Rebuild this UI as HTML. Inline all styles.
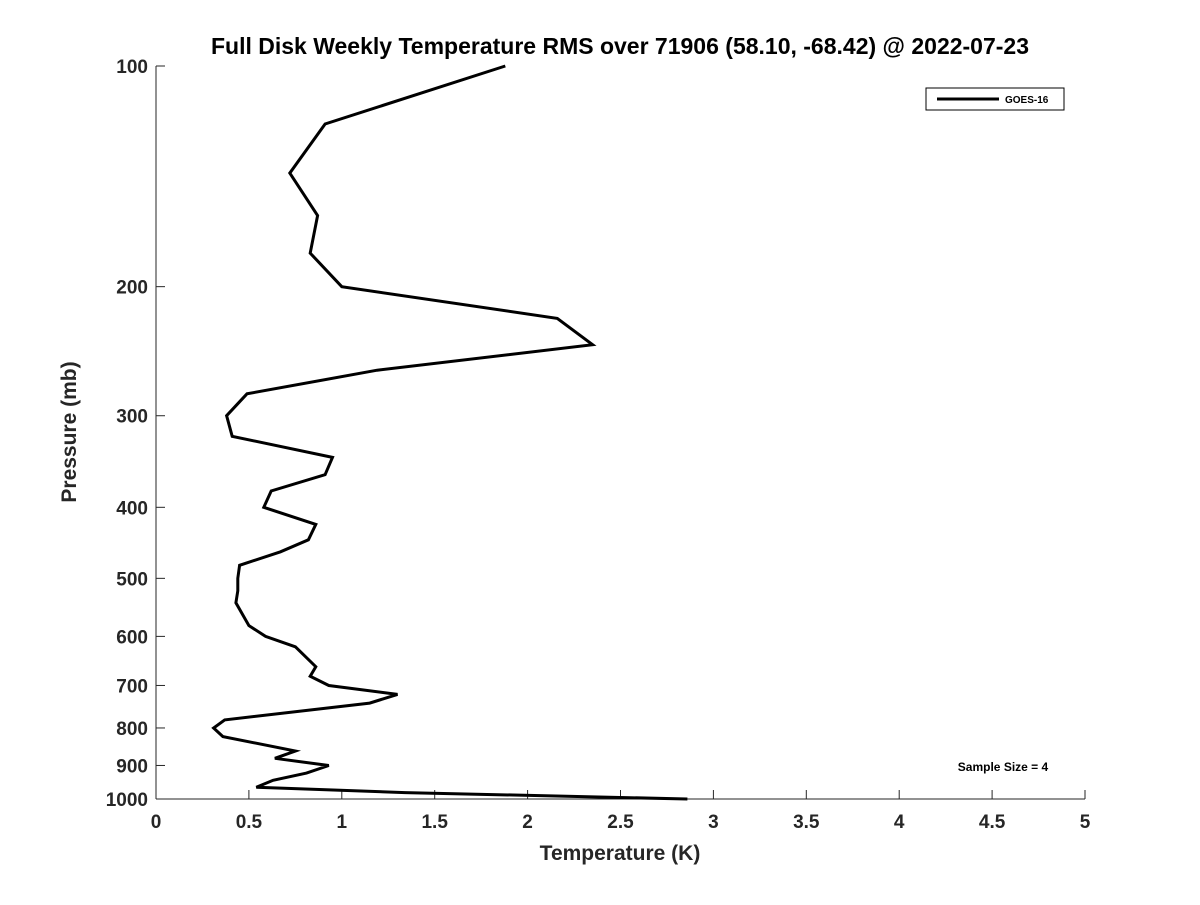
<!DOCTYPE html>
<html><head><meta charset="utf-8"><style>body{margin:0;background:#fff}svg text{font-family:"Liberation Sans","DejaVu Sans",sans-serif;font-weight:bold;fill:#262626}</style></head>
<body>
<svg id="chart" width="1200" height="900" xmlns="http://www.w3.org/2000/svg">
<rect width="1200" height="900" fill="#fff"/>
<text x="620" y="54" text-anchor="middle" font-size="23" style="fill:#000">Full Disk Weekly Temperature RMS over 71906 (58.10, -68.42) @ 2022-07-23</text>
<g id="axes"></g>
<path id="series" fill="none" stroke="#000" stroke-width="3" stroke-linejoin="miter"/>
<g>
<rect x="926" y="88" width="138" height="22" fill="#fff" stroke="#000" stroke-width="1"/>
<line x1="937" y1="99" x2="999" y2="99" stroke="#000" stroke-width="3"/>
<text x="1005" y="103" font-size="10" style="fill:#000">GOES-16</text>
</g>
<text x="1003" y="771" text-anchor="middle" font-size="12" style="fill:#000">Sample Size = 4</text>
<text x="620" y="860" text-anchor="middle" font-size="21">Temperature (K)</text>
<text transform="translate(76,432) rotate(-90)" text-anchor="middle" font-size="21">Pressure (mb)</text>
</svg>
<script>
const pressures=[100,120,140,160,180,200,221,240,260,280,300,320,342,361,380,400,422,443,460,480,500,520,540,580,600,620,660,680,700,720,740,780,800,822,860,880,900,922,943,964,980,1000];
const rmsValues=[1.88,0.91,0.72,0.87,0.83,1.0,2.16,2.35,1.19,0.49,0.38,0.41,0.95,0.91,0.62,0.58,0.86,0.82,0.67,0.45,0.44,0.44,0.43,0.5,0.59,0.75,0.86,0.83,0.93,1.30,1.15,0.37,0.31,0.36,0.75,0.64,0.93,0.81,0.63,0.54,1.34,2.86];
const xTicks=[0,0.5,1,1.5,2,2.5,3,3.5,4,4.5,5];
const xTickLabels=["0","0.5","1","1.5","2","2.5","3","3.5","4","4.5","5"];
const yTicks=[100,200,300,400,500,600,700,800,900,1000];
const yTickLabels=["100","200","300","400","500","600","700","800","900","1000"];
const X0=156,X1=1085,Y0=66,Y1=799;
function xs(v){return X0+(v-0)/(5-0)*(X1-X0);}
function ys(p){return Y0+Math.log10(p/100)/Math.log10(1000/100)*(Y1-Y0);}
const NS="http://www.w3.org/2000/svg";
const axes=document.getElementById('axes');
function mk(tag,attrs){const e=document.createElementNS(NS,tag);for(const k in attrs)e.setAttribute(k,attrs[k]);return e;}
let xl=mk('line',{x1:X0,y1:Y1,x2:X1,y2:Y1,stroke:'#262626','stroke-width':1});


axes.appendChild(xl);
let yl=mk('line',{x1:X0,y1:Y0,x2:X0,y2:Y1,stroke:'#262626','stroke-width':1});


axes.appendChild(yl);
xTicks.forEach((v,i)=>{const x=xs(v);
 let t=mk('line',{x1:x,y1:Y1,x2:x,y2:Y1-9,stroke:'#262626','stroke-width':1});
 
 
 axes.appendChild(t);
 let l=mk('text',{x:x,y:Y1+29,'text-anchor':'middle','font-size':19});l.textContent=xTickLabels[i];
 
 
 axes.appendChild(l);});
yTicks.forEach((p,i)=>{const y=ys(p);
 let t=mk('line',{x1:X0,y1:y,x2:X0+9,y2:y,stroke:'#262626','stroke-width':1});
 
 
 axes.appendChild(t);
 let l=mk('text',{x:X0-8,y:y+7,'text-anchor':'end','font-size':19});l.textContent=yTickLabels[i];
 
 
 axes.appendChild(l);});
document.getElementById('series').setAttribute('d',pressures.map((p,i)=>(i?'L':'M')+xs(rmsValues[i]).toFixed(1)+','+ys(p).toFixed(1)).join(' '));
</script>
</body></html>
